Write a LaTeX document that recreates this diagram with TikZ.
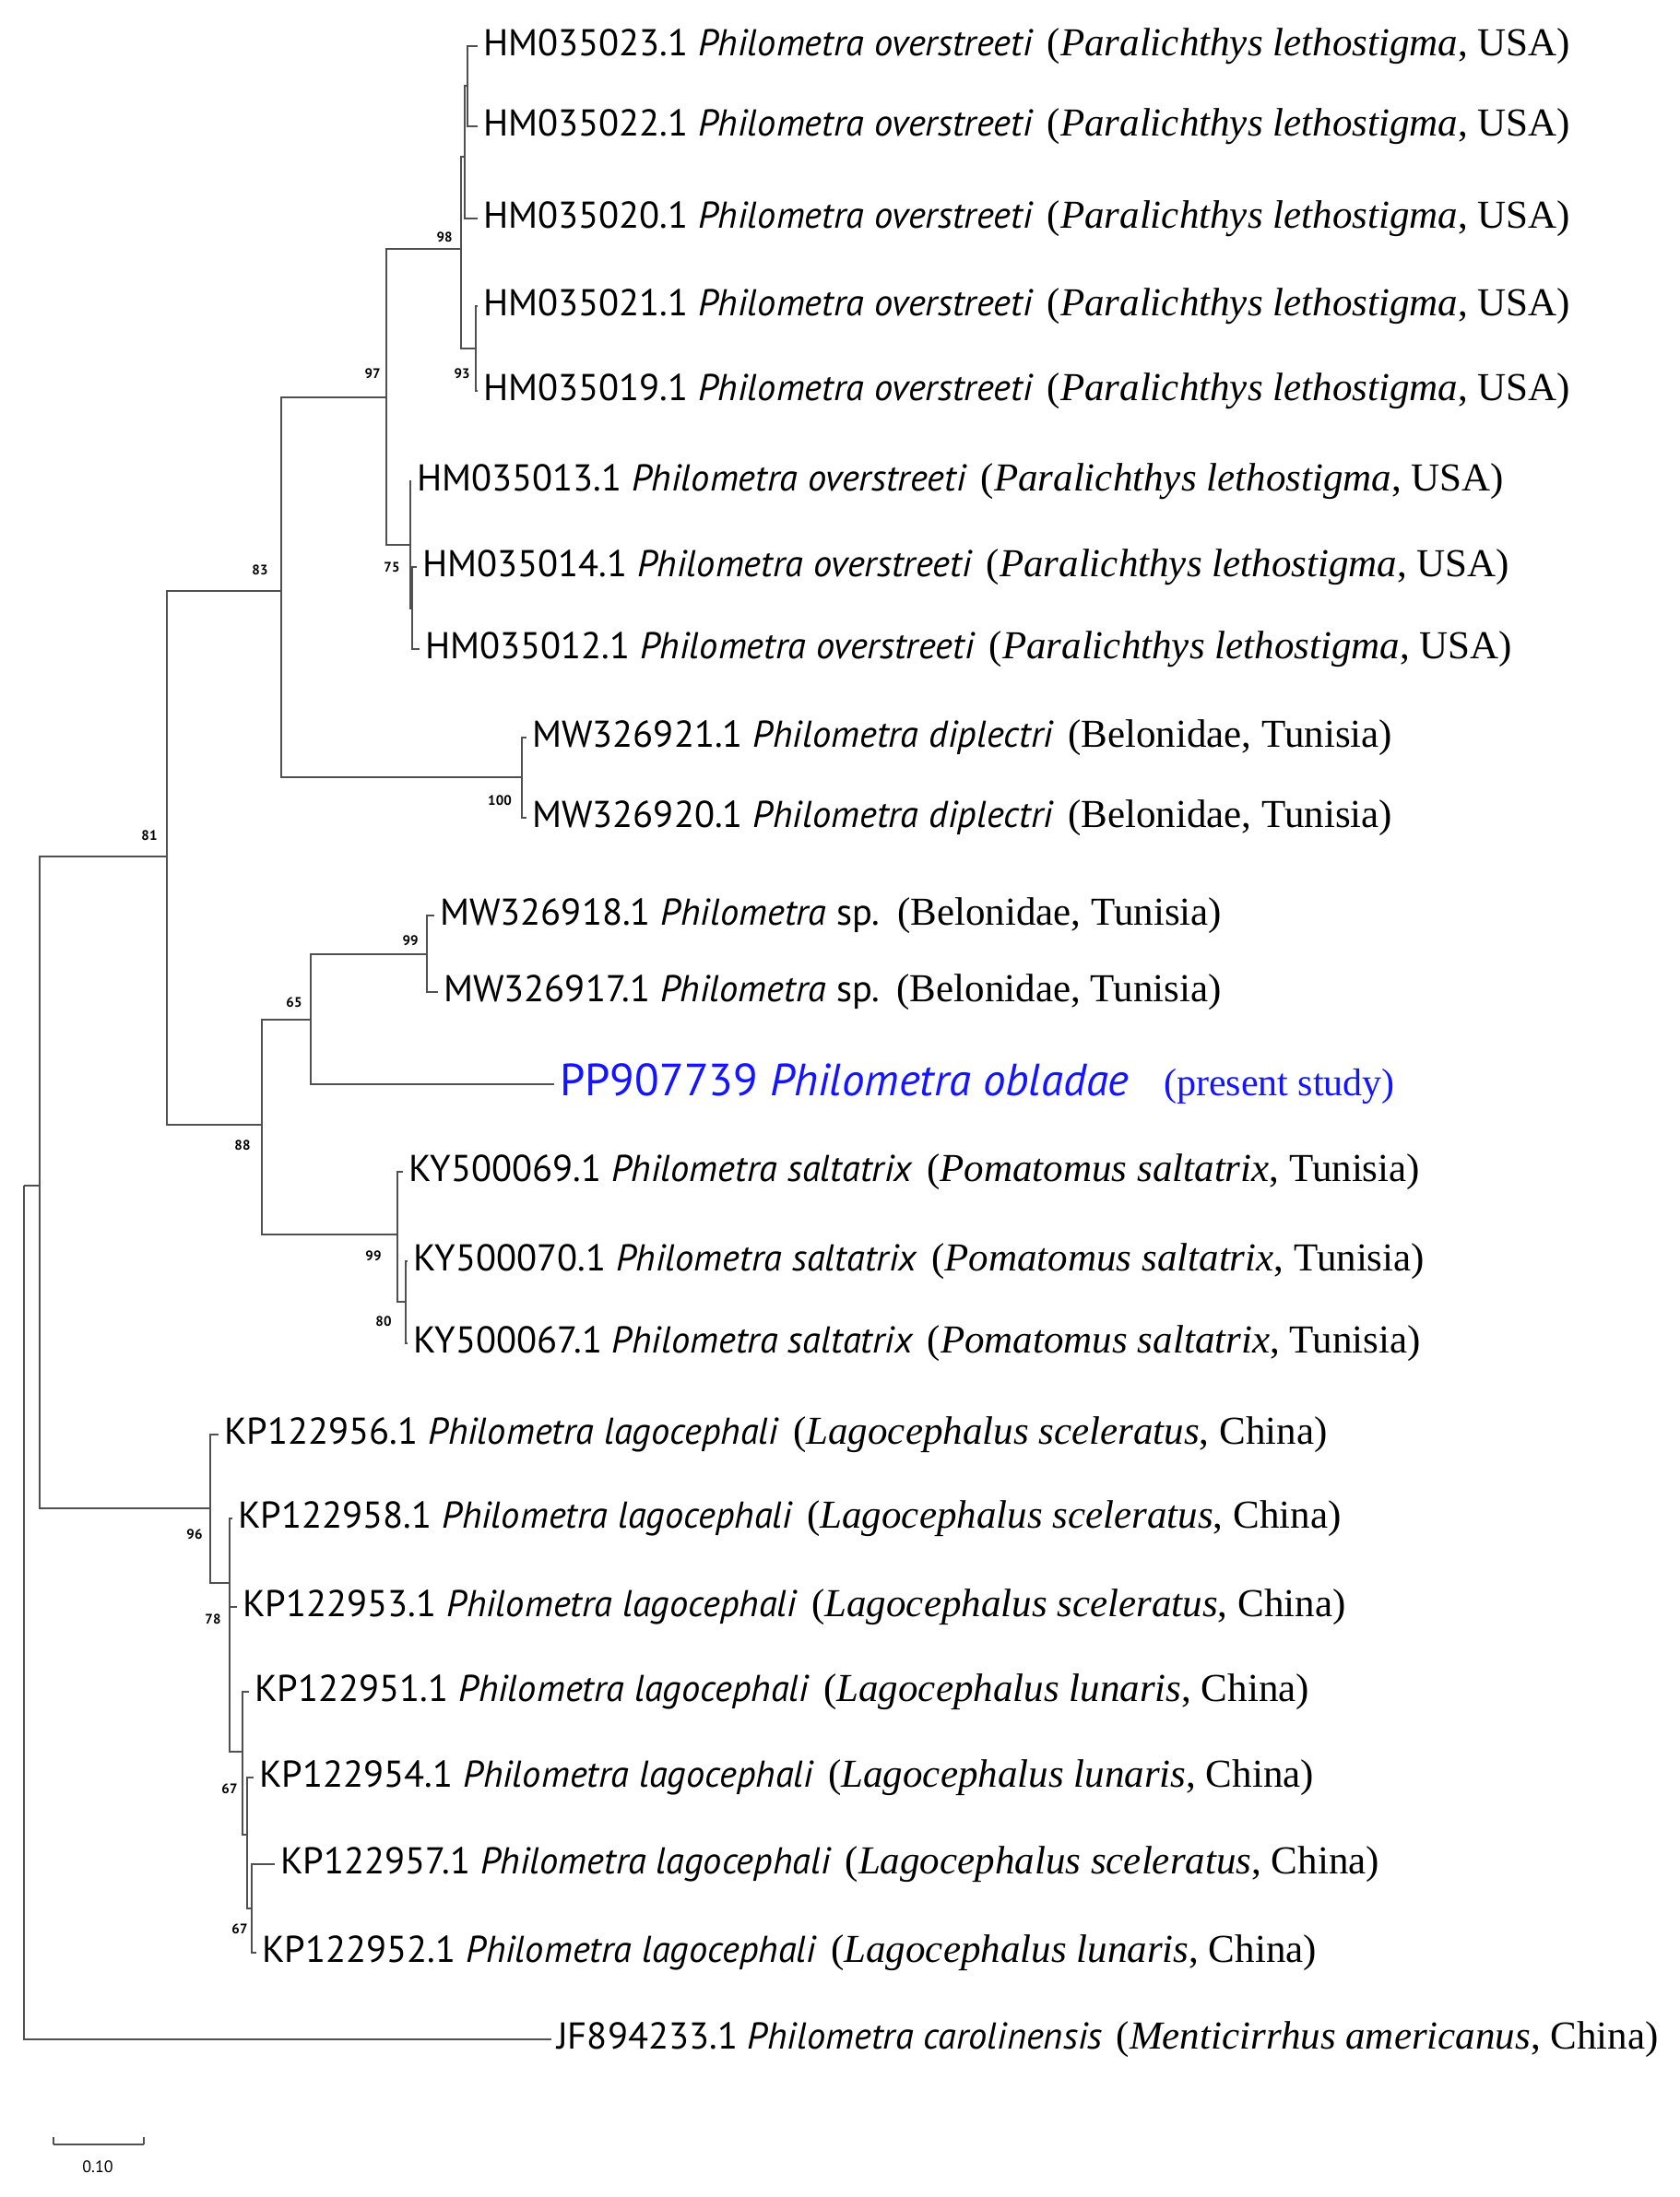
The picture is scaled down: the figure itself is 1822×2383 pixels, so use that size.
\documentclass[tikz,border=0pt]{standalone}
\usepackage{fontspec}
\setmainfont{Liberation Serif}
\setsansfont{PT Sans}
\definecolor{tree}{RGB}{80,80,80}
\definecolor{blu}{RGB}{20,20,255}
\begin{document}
\begin{tikzpicture}[x=1pt,y=-1pt,
  leaf/.style={anchor=west,inner xsep=6pt,inner ysep=0pt,font=\fontsize{40.5}{44}\selectfont\sffamily},
  br/.style={draw=tree,line width=1.6pt},
  bs/.style={font=\fontsize{15}{16}\selectfont\sffamily\bfseries}]
\useasboundingbox (0,0) rectangle (1822,2383);
\newcommand\hostx[1]{\hspace{0.1em}{\rmfamily\fontsize{43}{46}\selectfont #1}}
% leaves
\node[leaf] (l023) at (518,50) {HM035023.1 \textit{Philometra overstreeti} \hostx{(\textit{Paralichthys lethostigma}, USA)}};
\node[leaf] (l022) at (518,137) {HM035022.1 \textit{Philometra overstreeti} \hostx{(\textit{Paralichthys lethostigma}, USA)}};
\node[leaf] (l020) at (518,237) {HM035020.1 \textit{Philometra overstreeti} \hostx{(\textit{Paralichthys lethostigma}, USA)}};
\node[leaf] (l021) at (518,332) {HM035021.1 \textit{Philometra overstreeti} \hostx{(\textit{Paralichthys lethostigma}, USA)}};
\node[leaf] (l019) at (518,424) {HM035019.1 \textit{Philometra overstreeti} \hostx{(\textit{Paralichthys lethostigma}, USA)}};
\node[leaf] (l013) at (446,522) {HM035013.1 \textit{Philometra overstreeti} \hostx{(\textit{Paralichthys lethostigma}, USA)}};
\node[leaf] (l014) at (452,615) {HM035014.1 \textit{Philometra overstreeti} \hostx{(\textit{Paralichthys lethostigma}, USA)}};
\node[leaf] (l012) at (455,704) {HM035012.1 \textit{Philometra overstreeti} \hostx{(\textit{Paralichthys lethostigma}, USA)}};
\node[leaf] (l921) at (571,800) {MW326921.1 \textit{Philometra diplectri} \hostx{(Belonidae, Tunisia)}};
\node[leaf] (l920) at (571,887) {MW326920.1 \textit{Philometra diplectri} \hostx{(Belonidae, Tunisia)}};
\node[leaf] (l918) at (471,993) {MW326918.1 \textit{Philometra} sp. \hostx{(Belonidae, Tunisia)}};
\node[leaf] (l917) at (475,1076) {MW326917.1 \textit{Philometra} sp. \hostx{(Belonidae, Tunisia)}};
\node[leaf,text=blu,font=\fontsize{49}{52}\selectfont\sffamily] (lpp) at (601,1176) {PP907739 \textit{Philometra obladae}\hspace{0.5em} {\rmfamily\fontsize{42}{44}\selectfont (present study)}};
\node[leaf] (l069) at (437,1271) {KY500069.1 \textit{Philometra saltatrix} \hostx{(\textit{Pomatomus saltatrix}, Tunisia)}};
\node[leaf] (l070) at (442,1368) {KY500070.1 \textit{Philometra saltatrix} \hostx{(\textit{Pomatomus saltatrix}, Tunisia)}};
\node[leaf] (l067) at (442,1457) {KY500067.1 \textit{Philometra saltatrix} \hostx{(\textit{Pomatomus saltatrix}, Tunisia)}};
\node[leaf] (l956) at (237,1556) {KP122956.1 \textit{Philometra lagocephali} \hostx{(\textit{Lagocephalus sceleratus}, China)}};
\node[leaf] (l958) at (252,1647) {KP122958.1 \textit{Philometra lagocephali} \hostx{(\textit{Lagocephalus sceleratus}, China)}};
\node[leaf] (l953) at (257,1743) {KP122953.1 \textit{Philometra lagocephali} \hostx{(\textit{Lagocephalus sceleratus}, China)}};
\node[leaf] (l951) at (270,1835) {KP122951.1 \textit{Philometra lagocephali} \hostx{(\textit{Lagocephalus lunaris}, China)}};
\node[leaf] (l954) at (275,1928) {KP122954.1 \textit{Philometra lagocephali} \hostx{(\textit{Lagocephalus lunaris}, China)}};
\node[leaf] (l957) at (298,2022) {KP122957.1 \textit{Philometra lagocephali} \hostx{(\textit{Lagocephalus sceleratus}, China)}};
\node[leaf] (l952) at (278,2118) {KP122952.1 \textit{Philometra lagocephali} \hostx{(\textit{Lagocephalus lunaris}, China)}};
\node[leaf] (ljf) at (598,2212) {JF894233.1 \textit{Philometra carolinensis} \hostx{(\textit{Menticirrhus americanus}, China)}};
% internal nodes
\coordinate (R) at (26,1286);
\coordinate (A) at (43,1286);
\coordinate (B) at (181,929);
\coordinate (C) at (305,641);
\coordinate (D) at (284,1220);
\coordinate (E) at (419,431);
\coordinate (F) at (566,843);
\coordinate (G) at (500,270);
\coordinate (G1) at (504,170);
\coordinate (G2) at (507,93);
\coordinate (N93) at (516,378);
\coordinate (H) at (445,591);
\coordinate (H1) at (447,660);
\coordinate (I) at (337,1106);
\coordinate (K) at (463,1035);
\coordinate (J) at (431,1339);
\coordinate (J1) at (440,1412);
\coordinate (Lag) at (228,1636);
\coordinate (L78) at (249,1717);
\coordinate (M) at (263,1900);
\coordinate (M2) at (268,1990);
\coordinate (M3) at (273,2070);
% branches
\draw[br] (R) |- (A); \draw[br] (R) |- (ljf.west);
\draw[br] (A) |- (B); \draw[br] (A) |- (Lag);
\draw[br] (B) |- (C); \draw[br] (B) |- (D);
\draw[br] (C) |- (E); \draw[br] (C) |- (F);
\draw[br] (E) |- (G); \draw[br] (E) |- (H);
\draw[br] (G) |- (G1); \draw[br] (G) |- (N93);
\draw[br] (G1) |- (G2); \draw[br] (G1) |- (l020.west);
\draw[br] (G2) |- (l023.west); \draw[br] (G2) |- (l022.west);
\draw[br] (N93) |- (l021.west); \draw[br] (N93) |- (l019.west);
\draw[br] (H) |- (l013.west); \draw[br] (H) |- (H1);
\draw[br] (H1) |- (l014.west); \draw[br] (H1) |- (l012.west);
\draw[br] (F) |- (l921.west); \draw[br] (F) |- (l920.west);
\draw[br] (D) |- (I); \draw[br] (D) |- (J);
\draw[br] (I) |- (K); \draw[br] (I) |- (lpp.west);
\draw[br] (K) |- (l918.west); \draw[br] (K) |- (l917.west);
\draw[br] (J) |- (l069.west); \draw[br] (J) |- (J1);
\draw[br] (J1) |- (l070.west); \draw[br] (J1) |- (l067.west);
\draw[br] (Lag) |- (l956.west); \draw[br] (Lag) |- (L78);
\draw[br] (L78) |- (l958.west); \draw[br] (L78) |- (l953.west); \draw[br] (L78) |- (M);
\draw[br] (M) |- (l951.west); \draw[br] (M) |- (M2);
\draw[br] (M2) |- (l954.west); \draw[br] (M2) |- (M3);
\draw[br] (M3) |- (l957.west); \draw[br] (M3) |- (l952.west);
% bootstrap values
\node[bs] (b98) at (482,257) {98};
\node[bs] (b97) at (404,405) {97};
\node[bs] (b93) at (501,405) {93};
\node[bs] (b83) at (282,618) {83};
\node[bs] (b75) at (425,615) {75};
\node[bs] (b100) at (542,868) {100};
\node[bs] (b81) at (162,906) {81};
\node[bs] (b65) at (319,1087) {65};
\node[bs] (b99a) at (445,1020) {99};
\node[bs] (b88) at (263,1242) {88};
\node[bs] (b99b) at (405,1362) {99};
\node[bs] (b80) at (416,1433) {80};
\node[bs] (b96) at (211,1664) {96};
\node[bs] (b78) at (231,1756) {78};
\node[bs] (b67a) at (249,1940) {67};
\node[bs] (b67b) at (260,2092) {67};
% scale bar
\coordinate (s1) at (58,2326); \coordinate (s2) at (156,2326);
\draw[br] (s1) -- (s2);
\draw[br] (s1) -- ++(0,-8); \draw[br] (s2) -- ++(0,-8);
\node[font=\fontsize{18}{20}\selectfont\sffamily] (sc) at (106,2350) {0.10};
\end{tikzpicture}
\end{document}
